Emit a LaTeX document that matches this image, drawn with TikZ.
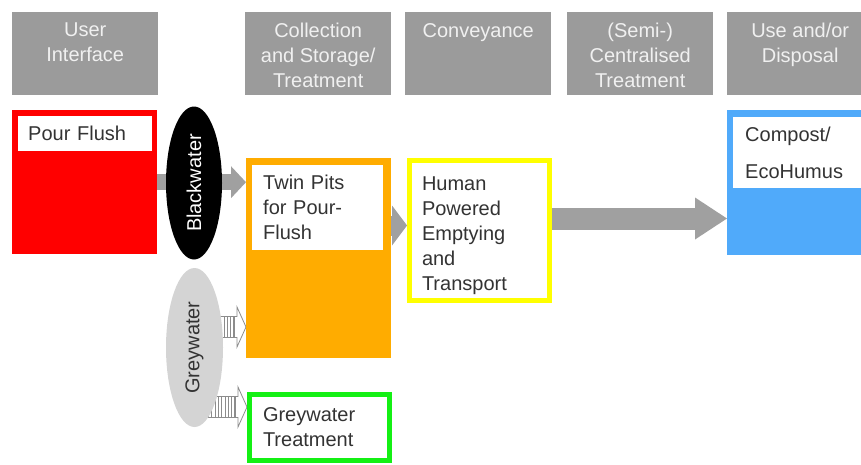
\documentclass[tikz,border=0pt]{standalone}
\usepackage{fontspec}
\setmainfont{Liberation Sans}
\usepackage{xcolor}
\usepackage{tikz}
\usetikzlibrary{shapes.geometric}
\usetikzlibrary{arrows.meta,calc}
\usetikzlibrary{backgrounds}
\definecolor{hdrgray}{RGB}{155,155,155}
\definecolor{hdrtext}{RGB}{240,240,240}
\definecolor{arrgray}{RGB}{160,160,160}
\definecolor{txtgray}{RGB}{51,51,51}
\definecolor{pfred}{RGB}{255,0,0}
\definecolor{pitorange}{RGB}{255,172,0}
\definecolor{hpyellow}{RGB}{255,255,0}
\definecolor{gwgreen}{RGB}{20,240,20}
\definecolor{useblue}{RGB}{80,170,250}
\definecolor{gwell}{RGB}{212,212,212}
\definecolor{gwstripe}{RGB}{140,140,140}
\tikzstyle{hdr}=[fill=hdrgray,inner sep=0,anchor=north west,minimum width=146,minimum height=83]
\tikzstyle{hdrlab}=[anchor=north,inner sep=0,align=center,text=hdrtext,yshift=-11]
\tikzstyle{stage}=[inner sep=0,anchor=north west]
\tikzstyle{inbox}=[fill=white,inner ysep=0,anchor=north west,align=left,text=txtgray]
\tikzstyle{outl}=[draw,line width=5,outer sep=2.5,fill=white,anchor=north west,align=left,text=txtgray]
\tikzstyle{wtype}=[ellipse,rotate=90,inner sep=0]
\tikzstyle{flow}=[draw=arrgray]
% striped greywater arrow, #1 tail, #2 tip (same height)
\newcommand{\gwarrow}[2]{%
  \filldraw[gwstripe,fill=white,line width=0.8] ($(#1)+(0,-10.5)$) -- ($(#2)+(-9,-10.5)$)
    -- ($(#2)+(-9,-20)$) -- (#2) -- ($(#2)+(-9,20)$) -- ($(#2)+(-9,10.5)$)
    -- ($(#1)+(0,10.5)$) -- cycle;
  \foreach \k in {3,6.3,...,45}
    \draw[gwstripe,line width=1.1] ($(#2)+(-9-\k,-10.5)$) -- ($(#2)+(-9-\k,10.5)$);
}

\begin{document}
\begin{tikzpicture}[x=1pt,y=-1pt,font=\fontsize{20}{25}\selectfont]
\useasboundingbox (0,0) rectangle (861,464);

% % % headers
	\node[hdr,label={[hdrlab]north:User\\Interface}] (hUI) at (12,12) {};
	\node[hdr,label={[hdrlab]north:Collection\\and Storage/\\Treatment}] (hCS) at (245,12) {};
	\node[hdr,label={[hdrlab]north:Conveyance}] (hCV) at (405,12) {};
	\node[hdr,label={[hdrlab]north:(Semi-)\\Centralised\\Treatment}] (hST) at (567,12) {};
	\node[hdr,label={[hdrlab]north:Use and/or\\Disposal}] (hUD) at (727,12) {};

% % % technologies
	\node[stage,fill=pfred,minimum width=145,minimum height=144] (uif) at (12,110) {};
	\node[inbox,text width=114,inner xsep=10,minimum height=35] (pfl) at (18,116) {Pour Flush};

	\node[stage,fill=pitorange,minimum width=145,minimum height=200] (csb) at (246,158) {};
	\node[inbox,text width=109,inner xsep=11,minimum height=85] (tpf) at (252,165)
	{Twin Pits\\for Pour-\\Flush};

	\node[outl,draw=hpyellow,text width=115,inner xsep=12.5,minimum height=140] (hpe) at (407,158)
	{\rule{0pt}{24pt}Human\\Powered\\Emptying\\and\\Transport};

	\node[outl,draw=gwgreen,text width=113,inner xsep=13.5,minimum height=66] (gwt) at (247,392)
	{Greywater\\Treatment};

	\node[stage,fill=useblue,minimum width=150,minimum height=145] (cph) at (727,110) {};
	\node[inbox,text width=140,inner xsep=12,minimum height=71] (cmp) at (733,117)
	{Compost/\\[12pt]EcoHumus};

% % % products
	\node[wtype,fill=black,text=white,minimum width=153,minimum height=56] (bw) at (194,183) {Blackwater};
	\node[wtype,fill=gwell,text=txtgray,minimum width=159,minimum height=57] (gw) at (194.5,347.5) {Greywater};

% % % flows
\begin{scope}[on background layer]
	\draw[flow,line width=16,-{Triangle[length=15,width=32,line width'=0pt]}]
	 (uif.east) -- (uif.east -| csb.west);

	\coordinate (mids) at ($(hpe.west)+(0,-5)$);
	\draw[flow,line width=20,-{Triangle[length=15,width=40,line width'=0pt]}]
	 (mids -| csb.east) -- (mids);

	\coordinate (bigs) at ($(hpe.east)+(0,-12)$);
	\draw[flow,line width=22,-{Triangle[length=32,width=42,line width'=0pt]}]
	 (bigs) -- (bigs -| cph.west);

	\coordinate (gw1) at (gw.center |- 0,327);
	\coordinate (gw2) at (gw.center |- 0,407);
	\gwarrow{gw1}{gw1 -| csb.west}
	\gwarrow{gw2}{gw2 -| gwt.west}
\end{scope}
\end{tikzpicture}
\end{document}
